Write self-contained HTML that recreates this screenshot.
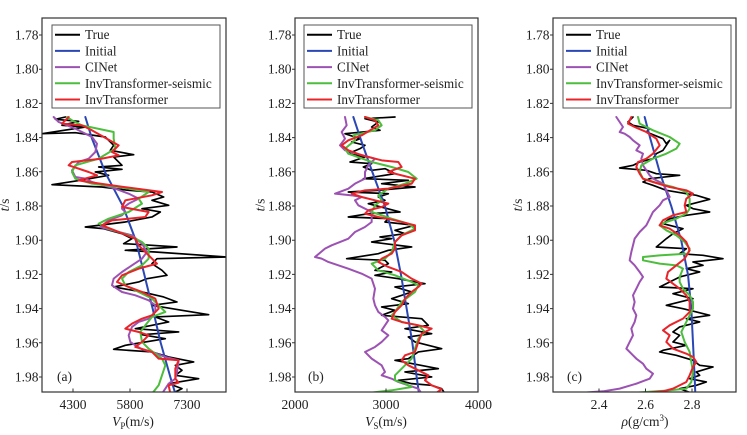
<!DOCTYPE html>
<html><head><meta charset="utf-8"><style>
html,body{margin:0;padding:0;background:#fff;}
svg{display:block;}
text{font-family:"Liberation Serif",serif;fill:#222;}
.tk{font-size:13.5px;}
.lg{font-size:13.2px;}
</style></head><body>
<svg width="747" height="435" viewBox="0 0 747 435" xmlns="http://www.w3.org/2000/svg">
<defs>
<clipPath id="ca"><rect x="42" y="18" width="184" height="374"/></clipPath>
<clipPath id="cb"><rect x="295" y="18" width="183" height="374"/></clipPath>
<clipPath id="cc"><rect x="553" y="18" width="183" height="374"/></clipPath>
</defs>
<rect width="747" height="435" fill="#fff"/>

<!-- ============ Panel A ============ -->
<g clip-path="url(#ca)">
<g transform="translate(42,112) scale(0.3333)" fill="none" stroke-linejoin="round" stroke-linecap="round">
<polyline stroke="#000" stroke-width="5" points="70,15 40,22 110,28 60,40 130,45 0,65 100,62 190,75 215,100 205,115 275,128 215,135 240,160 170,165 240,172 160,180 200,190 115,205 30,218 180,225 260,235 330,240 365,255 330,265 380,280 300,290 355,300 330,315 250,330 130,345 185,350 240,365 270,380 245,395 330,400 405,405 250,415 340,420 555,435 345,440 330,455 360,475 375,490 315,500 290,510 215,525 300,540 365,555 405,570 330,580 420,595 500,608 340,615 380,630 280,650 410,660 300,668 370,680 250,700 215,712 330,720 380,735 455,750 400,760 420,775 400,790 470,800 380,815 420,830 400,840"/>
<polyline stroke="#2a47b5" stroke-width="6" points="130,15 150,80 190,182 243,283 282,387 307,488 332,590 356,692 385,795 400,845"/>
<polyline stroke="#9c52b3" stroke-width="6" points="35,15 50,30 100,50 150,75 165,95 160,120 140,140 110,150 90,175 100,195 130,200 150,210 220,230 260,245 290,260 260,275 240,290 250,300 240,310 200,325 175,345 210,355 270,370 300,395 315,420 300,440 270,460 240,480 215,500 210,520 240,540 280,550 320,565 340,580 340,600 320,620 290,630 270,645 260,670 265,690 280,700 300,712 330,720 370,735 410,745 405,780 400,800 380,815 360,845"/>
<polyline stroke="#4cbd3c" stroke-width="6" points="75,15 90,25 120,40 215,60 215,80 220,110 170,140 100,160 90,180 100,200 150,215 230,225 320,240 290,260 300,275 260,300 200,320 170,335 200,350 260,370 300,390 320,410 320,440 300,460 260,480 240,500 250,520 290,540 330,560 350,580 370,600 330,615 310,640 295,660 300,690 320,710 360,740 370,760 360,790 350,820 330,845"/>
<polyline stroke="#e8242a" stroke-width="6" points="80,15 60,35 120,40 150,55 230,100 210,120 230,130 180,140 90,150 80,160 140,180 165,190 110,205 140,210 245,225 360,240 330,250 250,265 240,285 320,300 310,315 210,325 180,340 230,360 280,380 290,400 320,430 345,455 290,470 240,490 225,510 260,525 300,540 340,560 350,590 330,610 300,620 270,635 250,650 290,660 320,670 300,690 280,705 330,720 350,740 410,745 400,770 400,800 410,812 380,820 385,845"/>
</g>
</g>
<rect x="42" y="18" width="184" height="374" fill="none" stroke="#333" stroke-width="1.2"/>

<!-- ============ Panel B ============ -->
<g clip-path="url(#cb)">
<g transform="translate(295,112) scale(0.3333)" fill="none" stroke-linejoin="round" stroke-linecap="round">
<polyline stroke="#000" stroke-width="5" points="300,15 210,20 250,30 230,45 255,55 150,65 195,80 170,90 210,100 195,110 160,125 210,135 165,150 230,155 205,165 230,175 270,170 300,185 205,200 340,205 260,215 360,225 250,235 160,240 280,245 250,255 270,265 220,275 315,300 220,305 160,315 280,320 270,330 360,340 300,355 330,365 255,375 290,380 230,390 350,405 280,415 250,425 155,440 270,445 280,455 240,475 290,480 240,490 310,500 390,515 300,525 350,540 290,560 340,575 260,585 300,595 260,610 380,620 400,640 330,650 410,665 340,675 360,690 440,710 370,720 340,740 300,745 430,770 330,780 410,795 310,805 350,815 410,820 440,830 450,845"/>
<polyline stroke="#2a47b5" stroke-width="6" points="175,15 200,90 232,180 270,283 298,387 318,488 335,590 352,692 365,795 372,845"/>
<polyline stroke="#9c52b3" stroke-width="6" points="150,15 155,40 140,60 150,80 135,100 150,115 240,140 220,160 210,180 210,200 180,215 160,230 120,245 170,250 200,255 180,265 190,280 230,300 230,330 210,345 180,360 160,380 110,400 90,410 60,435 80,440 100,450 130,460 160,470 200,485 230,500 240,530 235,560 240,580 250,600 270,615 280,625 270,640 260,655 280,670 260,690 240,705 210,720 230,740 260,760 270,780 260,790 290,800 310,810 340,820 370,830 380,845"/>
<polyline stroke="#4cbd3c" stroke-width="6" points="210,15 250,25 260,40 240,55 175,70 180,85 150,110 160,125 230,150 290,165 340,180 365,200 330,215 280,230 250,250 260,265 240,280 230,300 290,320 340,335 360,350 320,370 300,390 290,420 270,440 230,455 250,475 300,490 350,510 370,520 360,540 320,570 300,600 290,610 320,630 370,640 390,660 370,680 360,710 350,740 330,760 300,790 300,805 330,815 350,825 290,835 230,842"/>
<polyline stroke="#e8242a" stroke-width="6" points="210,15 240,25 250,40 200,70 160,85 140,100 160,115 200,130 260,145 310,150 320,165 280,180 360,200 350,215 280,230 210,235 170,245 200,255 240,265 280,275 260,285 220,295 210,305 250,315 300,325 360,340 360,355 320,370 300,390 300,410 290,425 260,440 250,450 280,465 320,480 350,500 380,515 370,525 350,540 330,560 320,580 300,600 290,620 320,630 370,640 410,650 380,665 370,690 360,720 330,730 320,745 340,760 370,775 400,790 390,805 410,820 440,832 420,845"/>
</g>
</g>
<rect x="295" y="18" width="183" height="374" fill="none" stroke="#333" stroke-width="1.2"/>

<!-- ============ Panel C ============ -->
<g clip-path="url(#cc)">
<g transform="translate(553,112) scale(0.3333)" fill="none" stroke-linejoin="round" stroke-linecap="round">
<polyline stroke="#000" stroke-width="5" points="240,15 225,30 240,40 290,50 280,60 330,80 340,95 350,85 330,115 310,125 300,140 260,150 240,160 200,168 280,175 310,185 380,190 290,200 270,210 300,220 340,235 400,245 430,250 470,262 400,280 420,290 470,300 400,310 350,320 330,335 390,350 360,365 340,380 310,405 400,410 380,425 450,430 510,440 420,450 450,460 400,470 440,480 380,495 320,525 420,530 360,545 420,560 340,580 390,590 430,600 470,610 400,620 440,630 380,645 360,660 380,670 360,690 400,700 330,715 320,720 370,730 420,745 440,760 480,765 430,780 440,790 410,800 460,810 430,820 380,830 420,845"/>
<polyline stroke="#2a47b5" stroke-width="6" points="275,15 292,80 320,180 355,283 385,387 405,488 415,590 420,692 425,795 427,845"/>
<polyline stroke="#9c52b3" stroke-width="6" points="190,15 200,30 210,45 200,60 215,65 230,75 240,85 260,100 250,115 270,125 265,140 270,160 280,175 290,190 300,200 330,215 340,235 350,255 330,265 320,280 300,300 290,320 280,340 260,360 245,380 240,400 235,420 230,445 245,460 260,480 270,495 260,510 250,530 240,550 245,570 240,590 250,610 245,630 235,650 240,670 230,690 220,710 240,730 250,740 270,755 280,770 300,785 290,800 250,815 200,830 150,838 95,842"/>
<polyline stroke="#4cbd3c" stroke-width="6" points="255,15 260,35 300,55 350,75 380,95 370,110 340,125 300,140 265,160 260,180 270,200 320,215 360,225 400,240 410,260 410,290 400,305 370,320 340,330 320,340 340,355 370,370 395,390 410,410 405,425 320,430 270,435 270,445 320,455 370,460 390,470 380,495 380,510 390,530 410,550 420,570 420,590 410,610 400,630 385,660 395,690 410,720 415,750 420,780 415,810 400,830 340,836 250,842"/>
<polyline stroke="#e8242a" stroke-width="6" points="235,15 225,35 245,45 280,60 310,80 320,100 300,125 280,140 255,150 250,165 260,185 270,200 300,210 350,225 400,235 420,245 400,260 395,280 400,300 360,310 330,325 320,340 350,350 380,370 400,390 410,415 395,440 370,460 345,480 340,500 360,515 380,530 400,550 410,570 410,600 390,620 350,640 330,655 350,670 340,690 360,710 400,725 420,735 430,750 420,765 410,790 400,810 360,830 330,838 280,842"/>
</g>
</g>
<rect x="553" y="18" width="183" height="374" fill="none" stroke="#333" stroke-width="1.2"/>

<!-- ============ Ticks & labels ============ -->
<g stroke="#333" stroke-width="1">
<!-- y ticks A -->
<path d="M39 35H42M39 69.2H42M39 103.4H42M39 137.6H42M39 171.8H42M39 206H42M39 240.2H42M39 274.4H42M39 308.6H42M39 342.8H42M39 377H42"/>
<path d="M292 35H295M292 69.2H295M292 103.4H295M292 137.6H295M292 171.8H295M292 206H295M292 240.2H295M292 274.4H295M292 308.6H295M292 342.8H295M292 377H295"/>
<path d="M550 35H553M550 69.2H553M550 103.4H553M550 137.6H553M550 171.8H553M550 206H553M550 240.2H553M550 274.4H553M550 308.6H553M550 342.8H553M550 377H553"/>
<!-- x ticks -->
<path d="M73 392V388.5M130 392V388.5M187 392V388.5"/>
<path d="M386 392V388.5"/>
<path d="M599 392V388.5M645.5 392V388.5M692 392V388.5"/>
</g>

<g class="tk" text-anchor="end">
<text x="38.5" y="39.5">1.78</text><text x="38.5" y="73.7">1.80</text><text x="38.5" y="107.9">1.82</text><text x="38.5" y="142.1">1.84</text><text x="38.5" y="176.3">1.86</text><text x="38.5" y="210.5">1.88</text><text x="38.5" y="244.7">1.90</text><text x="38.5" y="278.9">1.92</text><text x="38.5" y="313.1">1.94</text><text x="38.5" y="347.3">1.96</text><text x="38.5" y="381.5">1.98</text>
<text x="291.5" y="39.5">1.78</text><text x="291.5" y="73.7">1.80</text><text x="291.5" y="107.9">1.82</text><text x="291.5" y="142.1">1.84</text><text x="291.5" y="176.3">1.86</text><text x="291.5" y="210.5">1.88</text><text x="291.5" y="244.7">1.90</text><text x="291.5" y="278.9">1.92</text><text x="291.5" y="313.1">1.94</text><text x="291.5" y="347.3">1.96</text><text x="291.5" y="381.5">1.98</text>
<text x="549.5" y="39.5">1.78</text><text x="549.5" y="73.7">1.80</text><text x="549.5" y="107.9">1.82</text><text x="549.5" y="142.1">1.84</text><text x="549.5" y="176.3">1.86</text><text x="549.5" y="210.5">1.88</text><text x="549.5" y="244.7">1.90</text><text x="549.5" y="278.9">1.92</text><text x="549.5" y="313.1">1.94</text><text x="549.5" y="347.3">1.96</text><text x="549.5" y="381.5">1.98</text>
</g>

<g class="tk" text-anchor="middle">
<text x="73" y="409">4300</text><text x="130" y="409">5800</text><text x="187" y="409">7300</text>
<text x="295" y="409">2000</text><text x="386" y="409">3000</text><text x="478.5" y="409">4000</text>
<text x="599" y="409">2.4</text><text x="645.5" y="409">2.6</text><text x="692" y="409">2.8</text>
</g>

<!-- axis titles -->
<g class="tk" text-anchor="middle">
<text x="133" y="426"><tspan font-style="italic">V</tspan><tspan font-size="9" dy="3">P</tspan><tspan dy="-3">(m/s)</tspan></text>
<text x="386" y="426"><tspan font-style="italic">V</tspan><tspan font-size="9" dy="3">S</tspan><tspan dy="-3">(m/s)</tspan></text>
<text x="645" y="426"><tspan font-style="italic">ρ</tspan>(g/cm<tspan font-size="9" dy="-5">3</tspan><tspan dy="5">)</tspan></text>
<text transform="translate(9,205) rotate(-90)"><tspan font-style="italic">t</tspan>/s</text>
<text transform="translate(264.5,205) rotate(-90)"><tspan font-style="italic">t</tspan>/s</text>
<text transform="translate(522,205) rotate(-90)"><tspan font-style="italic">t</tspan>/s</text>
</g>

<!-- panel letters -->
<g class="tk">
<text x="57" y="381">(a)</text>
<text x="308" y="381">(b)</text>
<text x="567" y="381">(c)</text>
</g>

<!-- ============ Legends ============ -->
<g>
<rect x="52" y="25" width="168" height="83" fill="#fff" stroke="#555" stroke-width="1"/>
<g stroke-width="2">
<line x1="55" y1="34.7" x2="80" y2="34.7" stroke="#000"/>
<line x1="55" y1="50.9" x2="80" y2="50.9" stroke="#2a47b5"/>
<line x1="55" y1="67.1" x2="80" y2="67.1" stroke="#9c52b3"/>
<line x1="55" y1="83.3" x2="80" y2="83.3" stroke="#4cbd3c"/>
<line x1="55" y1="99.5" x2="80" y2="99.5" stroke="#e8242a"/>
</g>
<g class="lg">
<text x="85" y="39.2">True</text><text x="85" y="55.4">Initial</text><text x="85" y="71.6">CINet</text><text x="85" y="87.8">InvTransformer-seismic</text><text x="85" y="104">InvTransformer</text>
</g>
</g>
<g>
<rect x="304" y="25" width="168" height="83" fill="#fff" stroke="#555" stroke-width="1"/>
<g stroke-width="2">
<line x1="307" y1="34.7" x2="332" y2="34.7" stroke="#000"/>
<line x1="307" y1="50.9" x2="332" y2="50.9" stroke="#2a47b5"/>
<line x1="307" y1="67.1" x2="332" y2="67.1" stroke="#9c52b3"/>
<line x1="307" y1="83.3" x2="332" y2="83.3" stroke="#4cbd3c"/>
<line x1="307" y1="99.5" x2="332" y2="99.5" stroke="#e8242a"/>
</g>
<g class="lg">
<text x="337" y="39.2">True</text><text x="337" y="55.4">Initial</text><text x="337" y="71.6">CINet</text><text x="337" y="87.8">InvTransformer-seismic</text><text x="337" y="104">InvTransformer</text>
</g>
</g>
<g>
<rect x="563" y="25" width="168" height="83" fill="#fff" stroke="#555" stroke-width="1"/>
<g stroke-width="2">
<line x1="566" y1="34.7" x2="591" y2="34.7" stroke="#000"/>
<line x1="566" y1="50.9" x2="591" y2="50.9" stroke="#2a47b5"/>
<line x1="566" y1="67.1" x2="591" y2="67.1" stroke="#9c52b3"/>
<line x1="566" y1="83.3" x2="591" y2="83.3" stroke="#4cbd3c"/>
<line x1="566" y1="99.5" x2="591" y2="99.5" stroke="#e8242a"/>
</g>
<g class="lg">
<text x="596" y="39.2">True</text><text x="596" y="55.4">Initial</text><text x="596" y="71.6">CINet</text><text x="596" y="87.8">InvTransformer-seismic</text><text x="596" y="104">InvTransformer</text>
</g>
</g>
</svg>
</body></html>
